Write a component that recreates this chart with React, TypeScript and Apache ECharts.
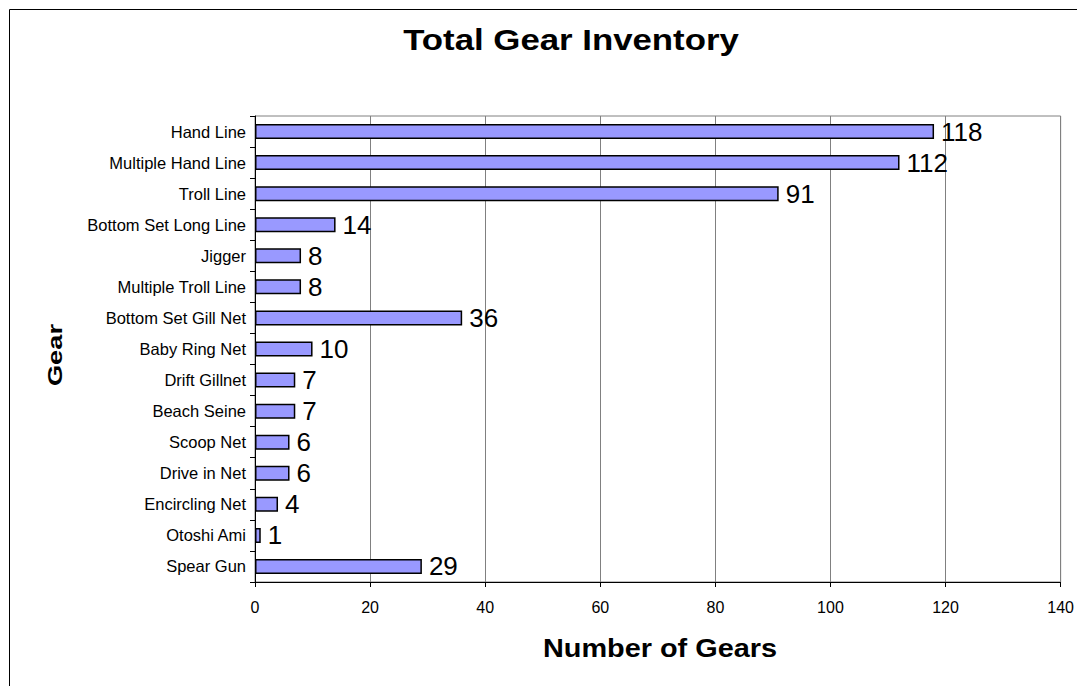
import React, { useEffect, useRef } from "react";
import * as echarts from "echarts";

const categories = [
  "Hand Line",
  "Multiple Hand Line",
  "Troll Line",
  "Bottom Set Long Line",
  "Jigger",
  "Multiple Troll Line",
  "Bottom Set Gill Net",
  "Baby Ring Net",
  "Drift Gillnet",
  "Beach Seine",
  "Scoop Net",
  "Drive in Net",
  "Encircling Net",
  "Otoshi Ami",
  "Spear Gun",
];
const values = [118, 112, 91, 14, 8, 8, 36, 10, 7, 7, 6, 6, 4, 1, 29];
const xTicks = { min: 0, max: 140, interval: 20 };
const titleText = "Total Gear Inventory";
const xName = "Number of Gears";
const yName = "Gear";

const FONT = "Arial, 'Liberation Sans', sans-serif";

export default function App() {
  const ref = useRef<HTMLDivElement>(null);
  useEffect(() => {
    if (!ref.current) return;
    const chart = echarts.init(ref.current, undefined, { renderer: "svg" });
    chart.setOption({
      animation: false,
      backgroundColor: "#ffffff",
      textStyle: { fontFamily: FONT },
      graphic: [
        {
          type: "rect",
          shape: { x: 9.5, y: 9.5, width: 1200, height: 800 },
          style: { fill: "none", stroke: "#000", lineWidth: 1 },
          silent: true,
        },
        {
          type: "text",
          x: 571,
          y: 40,
          scaleX: 1.2,
          style: {
            text: titleText,
            fontSize: 29,
            fontWeight: "bold",
            fill: "#000",
            fontFamily: FONT,
            align: "center",
            verticalAlign: "middle",
          },
        },
        {
          type: "text",
          x: 660,
          y: 648,
          scaleX: 1.11,
          style: {
            text: xName,
            fontSize: 26,
            fontWeight: "bold",
            fill: "#000",
            fontFamily: FONT,
            align: "center",
            verticalAlign: "middle",
          },
        },
        {
          type: "text",
          x: 55,
          y: 355,
          rotation: Math.PI / 2,
          scaleX: 1.3,
          style: {
            text: yName,
            fontSize: 21,
            fontWeight: "bold",
            fill: "#000",
            fontFamily: FONT,
            align: "center",
            verticalAlign: "middle",
          },
        },
      ],
      grid: {
        left: 255,
        right: 13,
        top: 116,
        bottom: 104,
        show: true,
        borderColor: "#808080",
        borderWidth: 1,
      },
      xAxis: {
        type: "value",
        min: xTicks.min,
        max: xTicks.max,
        interval: xTicks.interval,
        axisLine: { show: true, lineStyle: { color: "#000", width: 1 } },
        axisTick: { show: true, length: 5, lineStyle: { color: "#000" } },
        axisLabel: { fontSize: 16, color: "#000", margin: 17 },
        splitLine: { show: true, lineStyle: { color: "#808080", width: 1 } },
      },
      yAxis: {
        type: "category",
        data: categories,
        inverse: true,
        axisLine: { show: true, lineStyle: { color: "#000", width: 1 } },
        axisTick: { show: true, length: 5, lineStyle: { color: "#000" } },
        axisLabel: { fontSize: 16.5, color: "#000", margin: 9 },
        splitLine: { show: false },
      },
      series: [
        {
          type: "bar",
          data: values,
          barWidth: 15,
          itemStyle: { color: "#9999FF", borderColor: "#000", borderWidth: 1.5 },
          label: {
            show: true,
            position: "right",
            distance: 7,
            fontSize: 26,
            color: "#000",
            fontFamily: FONT,
          },
        },
      ],
    });
    return () => chart.dispose();
  }, []);
  return (
    <div
      ref={ref}
      style={{ position: "absolute", left: 0, top: 0, width: 1077, height: 686 }}
    />
  );
}
